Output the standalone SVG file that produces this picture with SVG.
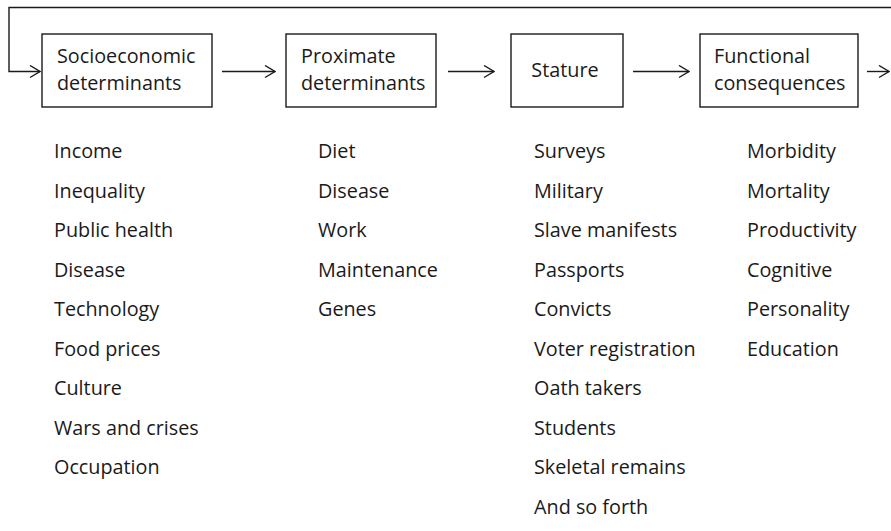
<svg xmlns="http://www.w3.org/2000/svg" width="891" height="531" viewBox="0 0 891 531">
  <defs>
    <marker id="head" viewBox="0 0 12 14" refX="11" refY="7" markerWidth="12" markerHeight="14" markerUnits="userSpaceOnUse" orient="auto">
      <path d="M1,1 L11,7 L1,13" fill="none" stroke="#1a1a1a" stroke-width="1.4"/>
    </marker>
    <style>
      .box { fill: #ffffff; stroke: #1a1a1a; stroke-width: 1.4; }
      .link { fill: none; stroke: #1a1a1a; stroke-width: 1.4; marker-end: url(#head); }
      .label, .item { font-family: "Open Sans", Lato, "DejaVu Sans", sans-serif; font-size: 19.8px; fill: #1a1a1a; }
    </style>
  </defs>
  <rect width="891" height="531" fill="#ffffff"/>

  <!-- connectors -->
  <g id="connectors">
    <path class="link" d="M891,7.5 H9 V71.5 H40"/>
    <path class="link" d="M222,71.5 H275"/>
    <path class="link" d="M448,71.5 H494"/>
    <path class="link" d="M633,71.5 H689"/>
    <path class="link" d="M867,71.5 H889"/>
  </g>

  <!-- Socioeconomic determinants -->
  <g id="socioeconomic">
    <rect class="box" x="42" y="34" width="170" height="73"/>
    <text class="label" x="57" y="63">Socioeconomic</text>
    <text class="label" x="57" y="90">determinants</text>
    <g class="item">
      <text x="54" y="158">Income</text>
      <text x="54" y="197.5">Inequality</text>
      <text x="54" y="237">Public health</text>
      <text x="54" y="276.5">Disease</text>
      <text x="54" y="316">Technology</text>
      <text x="54" y="355.5">Food prices</text>
      <text x="54" y="395">Culture</text>
      <text x="54" y="434.5">Wars and crises</text>
      <text x="54" y="474">Occupation</text>
    </g>
  </g>

  <!-- Proximate determinants -->
  <g id="proximate">
    <rect class="box" x="286" y="34" width="150" height="73"/>
    <text class="label" x="301" y="63">Proximate</text>
    <text class="label" x="301" y="90">determinants</text>
    <g class="item">
      <text x="318" y="158">Diet</text>
      <text x="318" y="197.5">Disease</text>
      <text x="318" y="237">Work</text>
      <text x="318" y="276.5">Maintenance</text>
      <text x="318" y="316">Genes</text>
    </g>
  </g>

  <!-- Stature -->
  <g id="stature">
    <rect class="box" x="511" y="34" width="112" height="73"/>
    <text class="label" x="565" y="77" text-anchor="middle">Stature</text>
    <g class="item">
      <text x="534" y="158">Surveys</text>
      <text x="534" y="197.5">Military</text>
      <text x="534" y="237">Slave manifests</text>
      <text x="534" y="276.5">Passports</text>
      <text x="534" y="316">Convicts</text>
      <text x="534" y="355.5">Voter registration</text>
      <text x="534" y="395">Oath takers</text>
      <text x="534" y="434.5">Students</text>
      <text x="534" y="474">Skeletal remains</text>
      <text x="534" y="513.5">And so forth</text>
    </g>
  </g>

  <!-- Functional consequences -->
  <g id="functional">
    <rect class="box" x="700" y="34" width="158" height="73"/>
    <text class="label" x="714" y="63">Functional</text>
    <text class="label" x="714" y="90">consequences</text>
    <g class="item">
      <text x="747" y="158">Morbidity</text>
      <text x="747" y="197.5">Mortality</text>
      <text x="747" y="237">Productivity</text>
      <text x="747" y="276.5">Cognitive</text>
      <text x="747" y="316">Personality</text>
      <text x="747" y="355.5">Education</text>
    </g>
  </g>
</svg>
